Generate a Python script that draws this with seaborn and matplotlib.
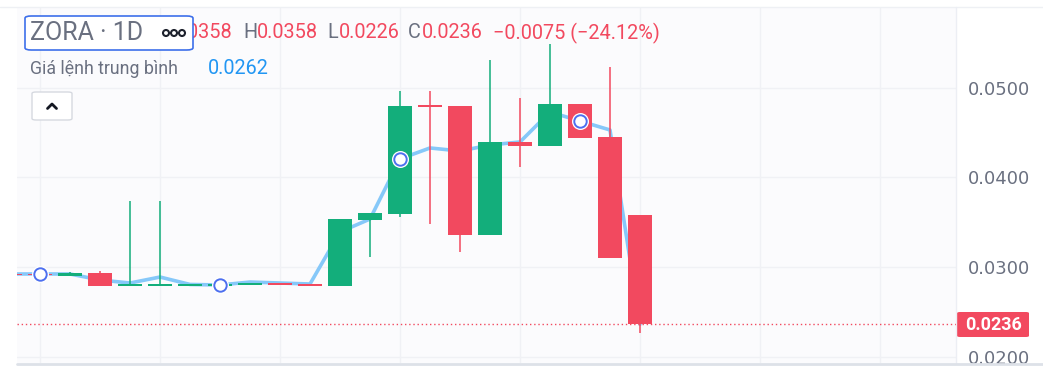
import numpy as np
import pandas as pd
import matplotlib
matplotlib.use("Agg")
import matplotlib.pyplot as plt
import seaborn as sns
from matplotlib.patches import FancyBboxPatch, Ellipse
from matplotlib.lines import Line2D

# ---------------- data ----------------
bar_index = list(range(22))
opens  = [0.0292, 0.0292, 0.02899, 0.02936, 0.0280, 0.0280, 0.0280, 0.0280, 0.0280, 0.02821, 0.0281,
          0.02788, 0.03528, 0.03596, 0.0480, 0.0480, 0.03358, 0.04397, 0.04352, 0.04821, 0.04453, 0.0358]
highs  = [0.0292, 0.0292, 0.02944, 0.02955, 0.03737, 0.03737, 0.0280, 0.0280, 0.02821, 0.02821, 0.0281,
          0.03536, 0.03603, 0.04966, 0.04966, 0.0480, 0.05313, 0.04888, 0.05492, 0.04821, 0.05235, 0.0358]
lows   = [0.0291, 0.0291, 0.02899, 0.02791, 0.0280, 0.0280, 0.0280, 0.0280, 0.0280, 0.02802, 0.0279,
          0.02788, 0.03115, 0.03562, 0.0348, 0.03168, 0.03358, 0.04117, 0.04352, 0.04441, 0.0310, 0.0226]
closes = [0.0291, 0.0291, 0.02933, 0.02791, 0.0280, 0.0280, 0.0280, 0.0280, 0.02821, 0.02802, 0.0279,
          0.03536, 0.03603, 0.04799, 0.04795, 0.03358, 0.04397, 0.04352, 0.04821, 0.04441, 0.0310, 0.0236]
avg_price = [0.02922, 0.02922, 0.02922, 0.02855, 0.02821, 0.02888, 0.02805, 0.02799, 0.02832, 0.02821, 0.0281,
             0.03391, 0.03536, 0.04207, 0.0433, 0.04296, 0.04363, 0.04397, 0.04732, 0.04631, 0.04531, 0.0236]
marker_bars = [1, 7, 13, 19]
y_ticks = [0.02, 0.03, 0.04, 0.05]
last_price = 0.0236
symbol_label = "ZORA · 1D"
ohlc_values = ["0.0358", "0.0358", "0.0226", "0.0236"]
change_text = "−0.0075 (−24.12%)"
avg_label = "Giá lệnh trung bình"
avg_value = "0.0262"

# ---------------- style ----------------
GREEN = "#13AE7B"
RED = "#F2495F"
BLUE_LINE = "#86C8F9"
MARK_BLUE = "#4D6FEF"
GREY_TXT = "#6A7080"
W, H = 1043, 370

sns.set_theme(style="white")
plt.rcParams['font.family'] = ['DejaVu Sans']

fig = plt.figure(figsize=(W / 100, H / 100), dpi=100, facecolor="white")

def fx(x):
    return x / W

def fy(y):
    return 1 - y / H

ax = fig.add_axes([fx(17), fy(363), (956 - 17) / W, (363 - 7) / H])
ax.set_facecolor("#FBFBFD")

# grid
for t in y_ticks:
    ax.axhline(t, color="#F0F1F5", lw=1, zorder=0)
for gx in [1, 5, 9, 13, 17, 21, 25, 29]:
    ax.axvline(gx, color="#F0F1F5", lw=1, zorder=0)

# average line (seaborn)
df = pd.DataFrame({"bar": bar_index, "avg": avg_price})
sns.lineplot(data=df, x="bar", y="avg", ax=ax, color=BLUE_LINE, lw=2.6, zorder=1)

# candles
min_h = 0.00014
for i, o, h, l, c in zip(bar_index, opens, highs, lows, closes):
    col = GREEN if c >= o else RED
    ax.vlines(i, l, h, color=col, lw=1.1, zorder=2)
    bottom = min(o, c)
    height = max(abs(c - o), min_h)
    if abs(c - o) < min_h:
        bottom = (o + c) / 2 - min_h / 2
    ax.bar(i, height, bottom=bottom, width=0.77, color=col, zorder=3, linewidth=0)

# markers
mx = [bar_index[b] for b in marker_bars]
my = [avg_price[b] for b in marker_bars]
ax.scatter(mx, my, s=150, color="white", zorder=4, linewidths=0)
ax.scatter(mx, my, s=80, facecolor="white", edgecolor=MARK_BLUE, linewidths=1.4, zorder=5)

# last price dotted line
ax.axhline(last_price, color=RED, ls=(0, (1, 2)), lw=1, zorder=2)

ax.set_xlim((17 - 10) / 30, (956 - 10) / 30)
ax.set_ylim(0.05 - (363 - 88) / 8950, 0.05 + (88 - 7) / 8950)
ax.yaxis.tick_right()
ax.set_yticks(y_ticks)
ax.set_yticklabels([f"{t:.4f}" for t in y_ticks])
ax.tick_params(axis="y", length=0, pad=8.5, labelsize=13, labelcolor=GREY_TXT)
ax.set_xticks([])
ax.set_xlabel("")
ax.set_ylabel("")
for s in ax.spines.values():
    s.set_visible(False)

# frame lines
fig.add_artist(Line2D([0, 1], [fy(7), fy(7)], color="#EEF0F4", lw=1))
fig.add_artist(Line2D([fx(956), fx(956)], [fy(7), fy(363)], color="#ECEEF4", lw=1))
fig.add_artist(Line2D([fx(17), 1], [fy(363.5), fy(363.5)], color="#DDE1E8", lw=2))

# price tag on axis
fig.add_artist(FancyBboxPatch((fx(957), fy(337)), 72 / W, 25 / H,
                              boxstyle="round,pad=0,rounding_size=0.003",
                              facecolor=RED, edgecolor="none"))
fig.text(fx(994), fy(324.5), f"{last_price:.4f}", color="white", family="Roboto",
         fontsize=13, fontweight="bold", ha="center", va="center")

# header OHLC
hdr_font = dict(family="Roboto", fontsize=14.3, va="center")
y_hdr = fy(33)
fig.text(fx(233), y_hdr, "O" + ohlc_values[0], color=RED, ha="right", **hdr_font)
fig.text(fx(243), y_hdr, "H", color=GREY_TXT, ha="left", **hdr_font)
fig.text(fx(257), y_hdr, ohlc_values[1], color=RED, ha="left", **hdr_font)
fig.text(fx(327), y_hdr, "L", color=GREY_TXT, ha="left", **hdr_font)
fig.text(fx(339), y_hdr, ohlc_values[2], color=RED, ha="left", **hdr_font)
fig.text(fx(408), y_hdr, "C", color=GREY_TXT, ha="left", **hdr_font)
fig.text(fx(422), y_hdr, ohlc_values[3], color=RED, ha="left", **hdr_font)
fig.text(fx(493), y_hdr, change_text, color=RED, ha="left", **hdr_font)

# symbol box
fig.add_artist(FancyBboxPatch((fx(25), fy(50)), 168 / W, 34 / H,
                              boxstyle="round,pad=0,rounding_size=0.006",
                              facecolor="white", edgecolor="#3D6FEA", lw=1.2, zorder=10))
fig.text(fx(30), fy(33), symbol_label, color=GREY_TXT, family="Roboto", fontsize=18,
         ha="left", va="center", zorder=11)
for cx in [166, 174, 182]:
    fig.add_artist(Ellipse((fx(cx), fy(33)), 6 / W, 6 / H, facecolor="none",
                           edgecolor="#1E222D", lw=1.5, zorder=11))

# second line
fig.text(fx(30), fy(69), avg_label, color=GREY_TXT, family="Roboto", fontsize=12.8,
         ha="left", va="center")
fig.text(fx(208), fy(69), avg_value, color="#2196F3", family="Roboto", fontsize=14.3,
         ha="left", va="center")

# collapse button
fig.add_artist(FancyBboxPatch((fx(32), fy(120)), 40 / W, 28 / H,
                              boxstyle="round,pad=0,rounding_size=0.004",
                              facecolor="white", edgecolor="#D6D9E0", lw=1, zorder=10))
fig.add_artist(Line2D([fx(47.5), fx(52), fx(56.5)], [fy(108.5), fy(104), fy(108.5)],
                      color="#131722", lw=2, zorder=11, solid_capstyle="round"))

fig.savefig("out.png", dpi=100, facecolor="white")
